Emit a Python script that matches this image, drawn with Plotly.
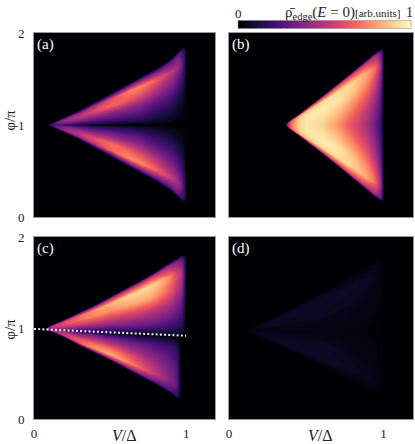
import plotly.graph_objects as go

FONT = "Liberation Serif"

# position across each wedge: -1 = lower edge, 0 = gap / centre line, +1 = upper edge
s_pos = [-1, -0.95, -0.8, -0.6, -0.4, -0.2, -0.06, 0, 0.06, 0.2, 0.4, 0.6, 0.8, 0.95, 1]

# ---- panel (a) ----
v_a = [0.1, 0.15, 0.2, 0.3, 0.4, 0.5, 0.6, 0.7, 0.8, 0.9, 0.95, 0.98, 1.0]
low_a = [0.995, 0.96, 0.92, 0.84, 0.75, 0.66, 0.57, 0.48, 0.39, 0.28, 0.21, 0.16, 0.14]
mid_a = [1.0, 1.0, 1.0, 1.0, 1.0, 1.0, 1.0, 1.0, 1.0, 1.0, 1.0, 1.0, 1.0]
up_a = [1.005, 1.04, 1.08, 1.16, 1.25, 1.34, 1.43, 1.52, 1.61, 1.72, 1.80, 1.85, 1.87]
rho_a = [
    [0, 8, 14, 16, 17, 17, 17, 17, 17, 17, 17, 16, 14, 8, 0],
    [0, 10, 25, 32, 32, 28, 22, 15, 22, 28, 32, 32, 25, 10, 0],
    [0, 12, 34, 42, 40, 32, 21, 8, 21, 32, 40, 42, 34, 12, 0],
    [0, 14, 42, 52, 44, 30, 16, 0, 16, 30, 44, 50, 40, 14, 0],
    [0, 17, 55, 62, 45, 28, 14, 0, 14, 28, 45, 60, 50, 16, 0],
    [0, 18, 65, 70, 45, 27, 12, 0, 12, 26, 43, 68, 60, 17, 0],
    [0, 24, 75, 67, 43, 25, 11, 0, 11, 25, 41, 65, 72, 22, 0],
    [0, 28, 76, 60, 38, 23, 10, 0, 10, 23, 37, 59, 75, 27, 0],
    [0, 28, 68, 49, 30, 16, 7, 0, 7, 16, 29, 48, 66, 27, 0],
    [0, 27, 54, 38, 24, 11, 4, 0, 4, 11, 23, 37, 52, 27, 0],
    [0, 30, 45, 30, 17, 6, 2, 0, 2, 6, 16, 29, 43, 30, 0],
    [0, 20, 28, 19, 10, 4, 1, 0, 1, 4, 10, 19, 27, 20, 0],
    [0, 4, 6, 5, 3, 1, 0, 0, 0, 1, 3, 5, 6, 4, 0],
]

# ---- panel (b) ----
v_b = [0.37, 0.4, 0.45, 0.5, 0.6, 0.7, 0.8, 0.9, 0.95, 0.98, 1.0]
low_b = [0.995, 0.95, 0.89, 0.825, 0.695, 0.56, 0.42, 0.28, 0.21, 0.17, 0.15]
mid_b = [1.0, 1.0, 1.0, 1.0, 1.0, 1.0, 1.0, 1.0, 1.0, 1.0, 1.0]
up_b = [1.005, 1.05, 1.11, 1.175, 1.305, 1.44, 1.58, 1.72, 1.79, 1.83, 1.85]
rho_b = [
    [0, 15, 20, 22, 22, 22, 22, 22, 22, 22, 22, 22, 20, 15, 0],
    [0, 30, 55, 62, 65, 66, 66, 66, 66, 66, 65, 62, 55, 30, 0],
    [0, 40, 80, 88, 90, 90, 90, 90, 90, 90, 90, 88, 80, 40, 0],
    [0, 45, 88, 94, 95, 95, 95, 95, 95, 95, 95, 94, 88, 45, 0],
    [0, 50, 92, 96, 95, 93, 92, 92, 92, 93, 95, 96, 92, 50, 0],
    [0, 55, 93, 95, 90, 84, 80, 79, 80, 84, 90, 95, 93, 55, 0],
    [0, 55, 90, 88, 78, 68, 63, 62, 63, 68, 78, 88, 90, 55, 0],
    [0, 50, 80, 72, 60, 50, 46, 45, 46, 50, 60, 72, 80, 50, 0],
    [0, 45, 66, 56, 45, 37, 33, 32, 33, 37, 45, 56, 66, 45, 0],
    [0, 30, 45, 38, 30, 25, 22, 22, 22, 25, 30, 38, 45, 30, 0],
    [0, 6, 9, 8, 6, 5, 4, 4, 4, 5, 6, 8, 9, 6, 0],
]

# ---- panel (c) ----
v_c = [0.08, 0.12, 0.2, 0.3, 0.4, 0.5, 0.6, 0.7, 0.8, 0.9, 0.94, 0.97, 1.0]
low_c = [0.975, 0.96, 0.90, 0.81, 0.73, 0.65, 0.56, 0.47, 0.38, 0.28, 0.22, 0.20, 0.20]
mid_c = [0.985, 0.981, 0.975, 0.968, 0.96, 0.952, 0.945, 0.937, 0.93, 0.922, 0.92, 0.917, 0.915]
up_c = [0.995, 1.03, 1.09, 1.17, 1.25, 1.34, 1.43, 1.52, 1.62, 1.73, 1.77, 1.80, 1.82]
rho_c = [
    [0, 10, 20, 25, 25, 25, 22, 20, 22, 25, 28, 30, 28, 15, 0],
    [0, 15, 35, 42, 42, 38, 30, 25, 32, 42, 48, 50, 45, 20, 0],
    [0, 22, 50, 55, 50, 40, 25, 10, 30, 45, 55, 62, 58, 25, 0],
    [0, 30, 66, 64, 50, 35, 18, 4, 25, 42, 58, 70, 68, 30, 0],
    [0, 35, 78, 70, 52, 35, 15, 3, 22, 40, 60, 75, 78, 35, 0],
    [0, 38, 82, 70, 50, 32, 12, 3, 20, 38, 58, 76, 84, 40, 0],
    [0, 38, 78, 64, 45, 30, 10, 3, 20, 38, 58, 80, 90, 45, 0],
    [0, 35, 66, 55, 40, 27, 9, 3, 18, 36, 55, 82, 93, 48, 0],
    [0, 30, 52, 45, 35, 24, 8, 3, 16, 34, 52, 78, 90, 48, 0],
    [0, 25, 38, 34, 28, 20, 7, 3, 14, 28, 45, 64, 72, 40, 0],
    [0, 15, 28, 27, 23, 16, 5, 2, 12, 24, 38, 52, 58, 35, 0],
    [0, 0, 0, 0, 0, 0, 0, 1, 10, 20, 32, 44, 48, 30, 0],
    [0, 0, 0, 0, 0, 0, 0, 0, 2, 4, 6, 8, 9, 6, 0],
]

# ---- panel (d) ----
v_d = [0.12, 0.15, 0.2, 0.3, 0.4, 0.5, 0.6, 0.7, 0.8, 0.9, 0.95, 0.98, 1.0]
low_d = [0.965, 0.94, 0.90, 0.82, 0.74, 0.66, 0.58, 0.50, 0.42, 0.33, 0.28, 0.25, 0.24]
mid_d = [0.97, 0.97, 0.97, 0.97, 0.97, 0.97, 0.97, 0.97, 0.97, 0.97, 0.97, 0.97, 0.97]
up_d = [0.975, 1.0, 1.05, 1.13, 1.22, 1.31, 1.40, 1.49, 1.58, 1.68, 1.74, 1.77, 1.78]
rho_d = [
    [0, 1, 2, 2, 2, 2, 2, 2, 2, 2, 2, 2, 2, 1, 0],
    [0, 1, 3, 3.5, 3.5, 3, 3, 3, 3, 3, 3.5, 3.5, 3, 1, 0],
    [0, 2, 4, 4.5, 4.5, 4, 3, 3, 3, 4, 4.5, 4.5, 4, 2, 0],
    [0, 2, 5, 5.5, 5, 4, 3, 2.5, 3, 4, 5, 5.5, 5, 2, 0],
    [0, 2.5, 6, 6, 5, 4, 3, 2.5, 3, 4, 5, 6, 6, 2.5, 0],
    [0, 3, 6.5, 6, 5, 4, 3, 2.5, 3, 4, 5, 6, 6.5, 3, 0],
    [0, 3, 6.5, 6, 5, 4, 3, 2.5, 3, 4, 5, 6, 6.5, 3, 0],
    [0, 3, 6, 5.5, 4.5, 3.5, 2.5, 2, 2.5, 3.5, 4.5, 5.5, 6.5, 3, 0],
    [0, 3, 5, 4.5, 3.5, 3, 2, 2, 2, 3, 4, 5, 6, 3, 0],
    [0, 2.5, 4, 3.5, 3, 2, 1.5, 1.5, 1.5, 2, 3, 4, 5, 3, 0],
    [0, 2, 3, 2.5, 2, 1.5, 1, 1, 1, 1.5, 2, 3, 4, 2.5, 0],
    [0, 1, 2, 1.5, 1, 1, 0.5, 0.5, 0.5, 1, 1.5, 2, 2.5, 1.5, 0],
    [0, 0.5, 0.5, 0.5, 0.5, 0, 0, 0, 0, 0, 0.5, 0.5, 0.5, 0.5, 0],
]

# dotted guide line in panel (c)
guide_v = [0.0, 1.0]
guide_phi = [0.99, 0.915]

panel_labels = ["(a)", "(b)", "(c)", "(d)"]
x_ticks = [0, 1]
y_ticks = [0, 1, 2]


def wedge_mesh(v, low, mid, up):
    """Carpet mesh: each V column spans its wedge from lower to upper edge."""
    xs, ys = [], []
    for j, vv in enumerate(v):
        xs.append([vv] * len(s_pos))
        row = []
        for s in s_pos:
            if s >= 0:
                row.append(mid[j] + s * (up[j] - mid[j]))
            else:
                row.append(mid[j] + s * (mid[j] - low[j]))
        ys.append(row)
    return xs, ys


hidden_axis = dict(showgrid=False, showline=False, showticklabels="none",
                   startline=False, endline=False, minorgridcount=0,
                   color="rgba(0,0,0,0)")

fig = go.Figure()

panels = [(v_a, low_a, mid_a, up_a, rho_a), (v_b, low_b, mid_b, up_b, rho_b),
          (v_c, low_c, mid_c, up_c, rho_c), (v_d, low_d, mid_d, up_d, rho_d)]
for i, (v, low, mid, up, rho) in enumerate(panels):
    sfx = "" if i == 0 else str(i + 1)
    xs, ys = wedge_mesh(v, low, mid, up)
    cid = "c" + str(i)
    fig.add_trace(go.Carpet(
        carpet=cid, a=s_pos, b=v, x=xs, y=ys,
        aaxis=hidden_axis, baxis=hidden_axis,
        xaxis="x" + sfx, yaxis="y" + sfx,
    ))
    fig.add_trace(go.Contourcarpet(
        carpet=cid, a=s_pos, b=v, z=rho,
        coloraxis="coloraxis",
        autocontour=False,
        contours=dict(start=0.5, end=99.5, size=1, coloring="fill",
                      showlines=False),
        line=dict(width=0, smoothing=1.0),
        xaxis="x" + sfx, yaxis="y" + sfx,
    ))

fig.add_trace(go.Scatter(
    x=guide_v, y=guide_phi, mode="lines",
    line=dict(color="#f2f2f2", width=2, dash="2px,2.2px"),
    xaxis="x3", yaxis="y3", showlegend=False, hoverinfo="skip",
))

ax_common = dict(
    showgrid=False, zeroline=False, showline=True, linecolor="#9a9a9a",
    linewidth=1, mirror=True, ticks="",
    tickfont=dict(family=FONT, size=13, color="#222"),
)

left_dom = [0, 0.4777]
right_dom = [0.5144, 1]
top_dom = [0.5233, 1]
bot_dom = [0, 0.4715]

layout_axes = {}
for i, (xd, yd) in enumerate([(left_dom, top_dom), (right_dom, top_dom),
                              (left_dom, bot_dom), (right_dom, bot_dom)]):
    sfx = "" if i == 0 else str(i + 1)
    layout_axes["xaxis" + sfx] = dict(
        ax_common, domain=xd, anchor="y" + sfx, range=[0, 1.19],
        tickvals=x_ticks, showticklabels=i >= 2, ticklabelstandoff=2,
    )
    layout_axes["yaxis" + sfx] = dict(
        ax_common, domain=yd, anchor="x" + sfx, range=[0, 2],
        tickvals=y_ticks, showticklabels=i % 2 == 0, ticklabelstandoff=6,
    )

annotations = []
for i, lab in enumerate(panel_labels):
    sfx = "" if i == 0 else str(i + 1)
    annotations.append(dict(
        text=lab, xref="x" + sfx + " domain", yref="y" + sfx + " domain",
        x=0.005, y=0.995, xanchor="left", yanchor="top", showarrow=False,
        font=dict(family=FONT, size=15, color="white"),
    ))

for yp in [0.7746, 0.2332]:
    annotations.append(dict(
        text="φ/π", xref="paper", yref="paper", x=-0.064, y=yp,
        xanchor="center", yanchor="middle", borderpad=0,
        textangle=-90, showarrow=False,
        font=dict(family=FONT, size=15, color="#222"),
    ))
for xp in [0.2388, 0.7559]:
    annotations.append(dict(
        text="<i>V</i>/Δ", xref="paper", yref="paper", x=xp, y=-0.044,
        xanchor="center", yanchor="middle", showarrow=False,
        font=dict(family=FONT, size=16, color="#222"),
    ))

# colour bar labels
annotations += [
    dict(text="0", xref="paper", yref="paper", x=0.5394, y=1.0518,
         xanchor="center", yanchor="middle",
         showarrow=False, font=dict(family=FONT, size=13, color="#222")),
    dict(text="1", xref="paper", yref="paper", x=0.9895, y=1.0544,
         xanchor="center", yanchor="middle",
         showarrow=False, font=dict(family=FONT, size=14, color="#222")),
    dict(text="ρ̄<sub>edge</sub>(<i>E</i> = 0)<span style='font-size:11px'>[arb.units]</span>",
         xref="paper", yref="paper", x=0.9685, y=1.0531,
         xanchor="right", yanchor="middle", borderpad=0, showarrow=False,
         font=dict(family=FONT, size=15, color="#222")),
]

fig.update_layout(
    width=415, height=444,
    margin=dict(l=34, r=2, t=33, b=25, autoexpand=False),
    font=dict(family=FONT),
    paper_bgcolor="white", plot_bgcolor="#000004",
    showlegend=False,
    coloraxis=dict(
        colorscale="Magma", cmin=0, cmax=100,
        colorbar=dict(
            orientation="h", x=0.7677, xanchor="center", y=1.0104,
            yanchor="bottom", len=173, lenmode="pixels", thickness=8,
            showticklabels=False, ticks="", outlinewidth=0.5,
            outlinecolor="#888", xpad=0, ypad=0,
        ),
    ),
    annotations=annotations,
    **layout_axes,
)

fig.write_html("out.html", config={"displayModeBar": False},
               post_script="document.body.style.margin='0px';")
